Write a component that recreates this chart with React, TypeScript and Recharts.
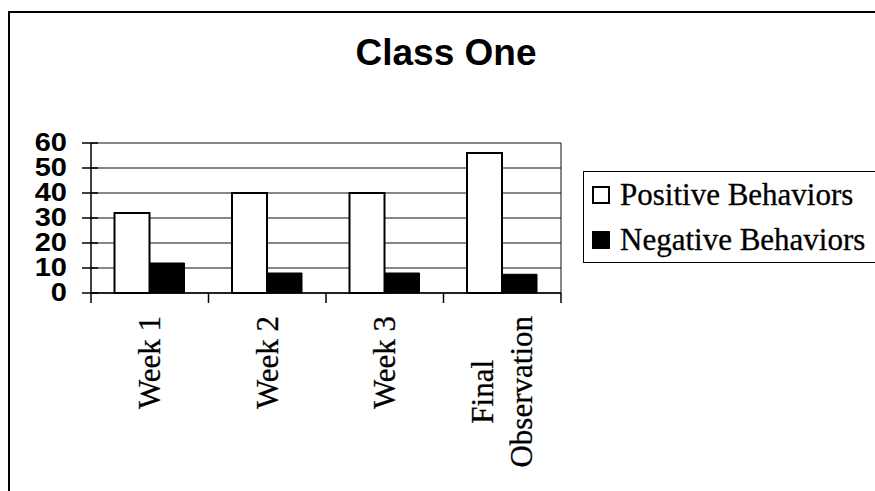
import React from 'react'
import { BarChart, Bar, XAxis, YAxis, CartesianGrid, Legend } from 'recharts'

const categories = ['Week 1', 'Week 2', 'Week 3', 'Final Observation']
const tickLines = [['Week 1'], ['Week 2'], ['Week 3'], ['Final', 'Observation']]
const positive = [32, 40, 40, 56]
const negative = [12, 8, 8, 7.5]
const yTicks = [0, 10, 20, 30, 40, 50, 60]
const seriesNames = ['Positive Behaviors', 'Negative Behaviors']

const W = 875
const H = 491
const SERIF = "'Times New Roman', 'Liberation Serif', serif"
const SANS = "Arial, 'Liberation Sans', sans-serif"

const data = categories.map((c, i) => ({
    name: c,
    positive: positive[i],
    negative: negative[i],
}))

let ctx: CanvasRenderingContext2D | null = null
const measure = (s: string, font: string) => {
    if (!ctx) ctx = document.createElement('canvas').getContext('2d')
    if (!ctx) return s.length * 15
    ctx.font = font
    return ctx.measureText(s).width
}

const YTick = (props: any) => {
    const { x, y, payload } = props
    return (
        <g>
            <line x1={x + 15} x2={x + 31} y1={y} y2={y} stroke="#000" strokeWidth={1.5} />
            <text
                transform={`translate(${x},${y}) scale(1,0.86)`}
                x={0}
                y={0}
                textAnchor="end"
                dominantBaseline="central"
                fontFamily={SANS}
                fontWeight="bold"
                fontSize={29}
                fill="#000"
            >
                {payload.value}
            </text>
        </g>
    )
}

const XTick = (props: any) => {
    const { x, y, payload, index, visibleTicksCount } = props
    const half = payload.offset ?? 470 / categories.length / 2
    const lines = tickLines[index] || [String(payload.value)]
    const font = `31px ${SERIF}`
    const maxLen = Math.max(...lines.map(l => measure(l, font)))
    const yc = y + 23 + maxLen / 2
    const spacing = 39
    return (
        <g>
            <line x1={x - half} x2={x - half} y1={y} y2={y + 10} stroke="#000" strokeWidth={1.5} />
            {index === visibleTicksCount - 1 && (
                <line x1={x + half} x2={x + half} y1={y} y2={y + 10} stroke="#000" strokeWidth={1.5} />
            )}
            {lines.map((l, i) => {
                const lx = x + (i - (lines.length - 1) / 2) * spacing
                return (
                    <text
                        key={i}
                        x={lx}
                        y={yc}
                        transform={`rotate(-90, ${lx}, ${yc})`}
                        textAnchor="middle"
                        dominantBaseline="central"
                        fontFamily={SERIF}
                        fontSize={31}
                        fill="#000"
                        stroke="#000"
                        strokeWidth={0.3}
                    >
                        {l}
                    </text>
                )
            })}
        </g>
    )
}

const LegendBox = (props: any) => {
    const items = [...(props.payload || [])].sort(
        (a: any, b: any) => seriesNames.indexOf(a.value) - seriesNames.indexOf(b.value)
    )
    return (
        <div>
            {items.map((entry: any, i: number) => (
                <div
                    key={i}
                    style={{
                        display: 'flex',
                        alignItems: 'center',
                        height: 45,
                        lineHeight: '45px',
                        fontFamily: SERIF,
                        fontSize: 31,
                        color: '#000',
                        whiteSpace: 'nowrap',
                        WebkitTextStroke: '0.3px #000',
                    }}
                >
                    <span
                        style={{
                            display: 'inline-block',
                            width: 18,
                            height: 18,
                            boxSizing: 'border-box',
                            background: entry.color,
                            border: '2px solid #000',
                            marginLeft: 8,
                            marginRight: 10,
                        }}
                    />
                    {entry.value}
                </div>
            ))}
        </div>
    )
}

export default function App() {
    return (
        <div style={{ position: 'absolute', left: 0, top: 0, width: W, height: H, background: '#fff', overflow: 'hidden' }}>
            <div
                style={{
                    position: 'absolute',
                    left: 8,
                    top: 11,
                    width: 1000,
                    height: 1000,
                    borderLeft: '2px solid #000',
                    borderTop: '2px solid #000',
                }}
            />
            <div
                style={{
                    position: 'absolute',
                    left: 246,
                    top: 35,
                    width: 400,
                    textAlign: 'center',
                    fontFamily: SANS,
                    fontWeight: 'bold',
                    fontSize: 37,
                    lineHeight: '36px',
                    color: '#000',
                }}
            >
                Class One
            </div>
            <div style={{ position: 'absolute', left: 0, top: 0 }}>
                <BarChart
                    width={W}
                    height={H}
                    data={data}
                    margin={{ top: 143, right: 314, bottom: 0, left: 0 }}
                    barCategoryGap="20%"
                    barGap={0}
                >
                    <CartesianGrid
                        stroke="#111"
                        strokeWidth={1}
                        vertical={true}
                        verticalCoordinatesGenerator={({ offset }: any) => [offset.left + offset.width]}
                    />
                    <XAxis
                        dataKey="name"
                        height={198}
                        interval={0}
                        tickLine={false}
                        tickSize={0}
                        tickMargin={0}
                        axisLine={{ stroke: '#000', strokeWidth: 1.5 }}
                        tick={<XTick />}
                    />
                    <YAxis
                        width={91}
                        domain={[0, 60]}
                        ticks={yTicks}
                        interval={0}
                        tickLine={false}
                        tickSize={9}
                        tickMargin={15}
                        axisLine={{ stroke: '#000', strokeWidth: 1.5 }}
                        tick={<YTick />}
                    />
                    <Legend
                        layout="vertical"
                        align="center"
                        verticalAlign="middle"
                        content={<LegendBox />}
                        wrapperStyle={{
                            left: 583,
                            top: 171,
                            width: 300,
                            height: 92,
                            border: '1.5px solid #000',
                            boxSizing: 'border-box',
                            background: '#fff',
                        }}
                    />
                    <Bar
                        dataKey="positive"
                        name={seriesNames[0]}
                        fill="#fff"
                        stroke="#000"
                        strokeWidth={2}
                        isAnimationActive={false}
                    />
                    <Bar
                        dataKey="negative"
                        name={seriesNames[1]}
                        fill="#000"
                        stroke="#000"
                        strokeWidth={1}
                        isAnimationActive={false}
                    />
                </BarChart>
            </div>
        </div>
    )
}
